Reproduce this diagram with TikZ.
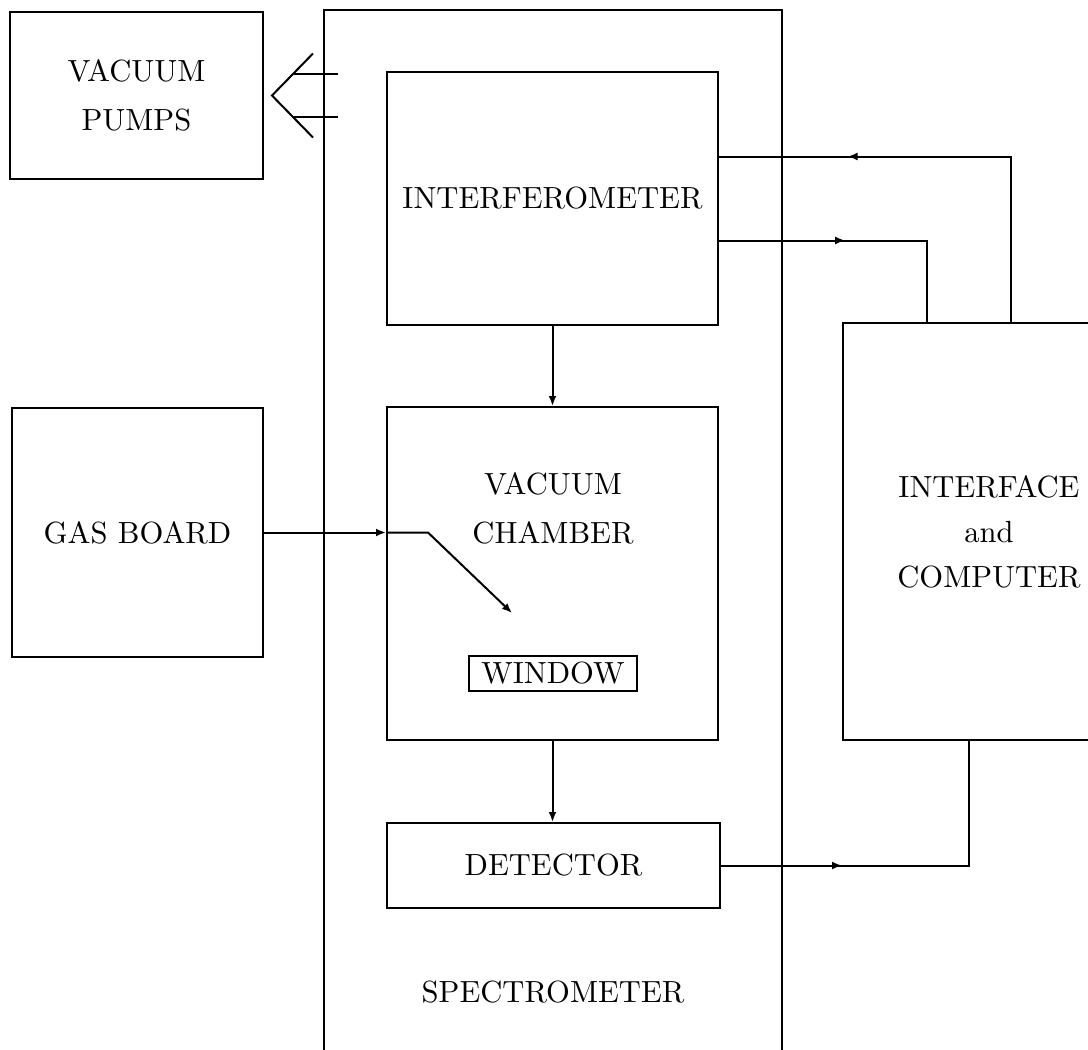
\documentclass[tikz,border=0pt]{standalone}
\usepackage{fontspec}
\setmainfont{lmroman10-regular.otf}
\usepackage{tikz}
\usetikzlibrary{arrows.meta,decorations.markings}
\newcommand{\blkfont}{\fontsize{30.6}{49}\selectfont}
\tikzset{
  ln/.style={line width=2pt},
  blk/.style={draw,ln,inner sep=0pt,align=center,font=\blkfont},
  txt/.style={inner sep=0pt,align=center,font=\blkfont},
  ar/.style={ln,-{Latex[length=10pt,width=8pt]}},
  midtip/.style={ln,postaction={decorate},
    decoration={markings,mark=at position #1 with {\arrow{Latex[length=10pt,width=8pt]}}}}
}

\begin{document}
\begin{tikzpicture}[x=1pt,y=-1pt]
\useasboundingbox (0,0) rectangle (1088,1050);
\clip (0,0) rectangle (1088,1050);
% boxes
\node[blk,minimum width=253pt,minimum height=167pt] (pump) at (136.5,95.5) {VACUUM\\PUMPS};
\node[blk,minimum width=458pt,minimum height=1060pt] (spec) at (553,540) {};
\node[blk,minimum width=331pt,minimum height=253pt] (ifm) at (552.5,198.5) {INTERFEROMETER};
\node[blk,minimum width=331pt,minimum height=333pt] (chm) at (552.5,573.5) {};
\node[txt] (chmlbl) at (553,508) {VACUUM\\CHAMBER};
\node[blk,minimum width=168pt,minimum height=35pt] (win) at (553,673.5) {WINDOW};
\node[blk,minimum width=333pt,minimum height=85pt] (det) at (553.5,865.5) {DETECTOR};
\node[txt] (speclbl) at (553,992.5) {SPECTROMETER};
\node[blk,minimum width=251pt,minimum height=249pt] (gas) at (137.5,532.5) {GAS BOARD};
\node[blk,minimum width=292pt,minimum height=417pt,font=\fontsize{30.6}{45}\selectfont] (ifc) at (989,531.5) {INTERFACE\\and\\COMPUTER};
% pump line
\draw[ln] ([shift={(49,-42)}]pump.east) -- ([xshift=8pt]pump.east) -- ([shift={(49,42)}]pump.east);
\draw[ln] ([shift={(30,-22)}]pump.east) -- ++(44,0);
\draw[ln] ([shift={(30,21)}]pump.east) -- ++(44,0);
% flow
\draw[ar] (ifm.south) -- (chm.north);
\draw[ar] (chm.south) -- (chm.south |- det.north);
\draw[ar] (gas.east) -- (gas.east -| chm.west);
\coordinate (jet) at (512,613);
\draw[ar] (gas.east -| chm.west) -- ++(42,0) -- (jet);
% signals
\draw[midtip=0.436] ([yshift=-42pt]ifm.east) -| ([xshift=-62pt]ifc.north);
\draw[midtip=0.719] ([xshift=22pt]ifc.north) |- ([yshift=42pt]ifm.east);
\draw[midtip=0.325] (det.east) -| ([xshift=-20pt]ifc.south);
\end{tikzpicture}
\end{document}
